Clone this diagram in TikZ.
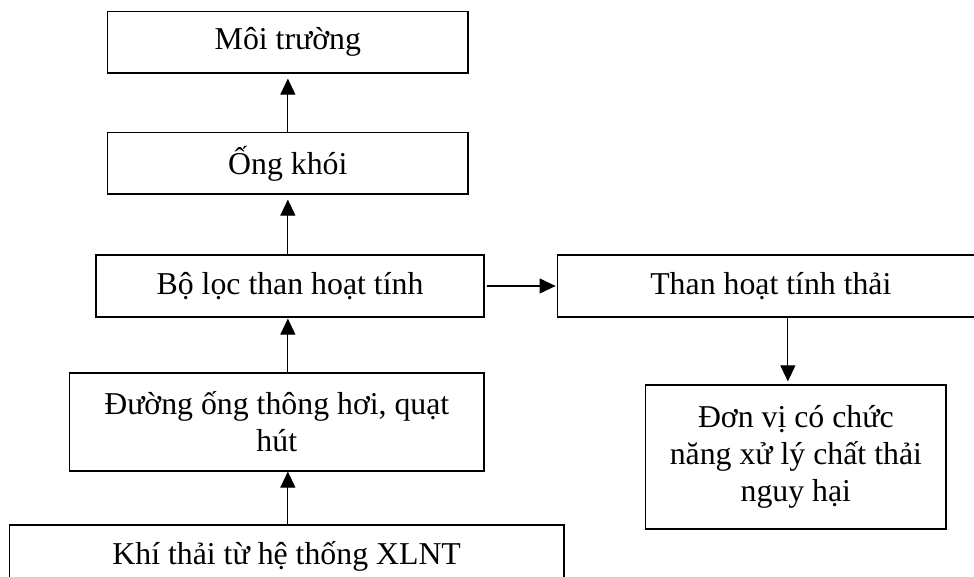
\documentclass[tikz,border=0pt]{standalone}
\usepackage{fontspec}
\setmainfont{Liberation Serif}
\usetikzlibrary{arrows.meta}
\begin{document}
\begin{tikzpicture}[x=1pt,y=-1pt,
  box/.style={draw, line width=1.2pt, inner sep=0pt, align=center,
    font=\fontsize{31.8}{37}\selectfont},
  arr/.style={line width=1.1pt, -{Triangle[length=16pt,width=15pt]}}]
\useasboundingbox (0,0) rectangle (974,577);
\clip (0,0) rectangle (974,577);
\fill[white] (0,0) rectangle (974,577);
\node[box, minimum width=360.3pt, minimum height=61.3pt] (B1) at (287.85,42.35) {Môi trường};
\node[box, minimum width=360.3pt, minimum height=61.3pt] (B2) at (287.85,163.35) {Ống khói};
\node[box, minimum width=388pt, minimum height=62pt] (B3) at (290,286) {Bộ lọc than hoạt tính};
\node[box, minimum width=426.3pt, minimum height=62pt] (B4) at (770.85,286) {Than hoạt tính thải};
\node[box, minimum width=300.3pt, minimum height=144pt] (B5) at (795.85,457) {Đơn vị có chức\\năng xử lý chất thải\\nguy hại};
\node[box, minimum width=414.4pt, minimum height=98pt] (B6) at (276.8,422) {Đường ống thông hơi, quạt\\hút};
\node[box, minimum width=554.7pt, minimum height=62pt] (B7) at (286.65,556) {Khí thải từ hệ thống XLNT};
\draw[arr, shorten >=5pt] (B2.north) -- (B1.south);
\draw[arr, shorten >=5pt] (B3.north -| B2.south) -- (B2.south);
\draw[arr, shorten >=1pt] (B6.north -| B2.south) -- (B3.south -| B2.south);
\draw[arr] (B7.north -| B2.south) -- (B6.south -| B2.south);
\draw[arr, shorten <=2pt, shorten >=1.5pt] (B3.east) -- (B4.west);
\draw[arr, shorten >=3pt] ([xshift=17pt]B4.south) -- ([xshift=-8pt]B5.north);
\end{tikzpicture}
\end{document}
